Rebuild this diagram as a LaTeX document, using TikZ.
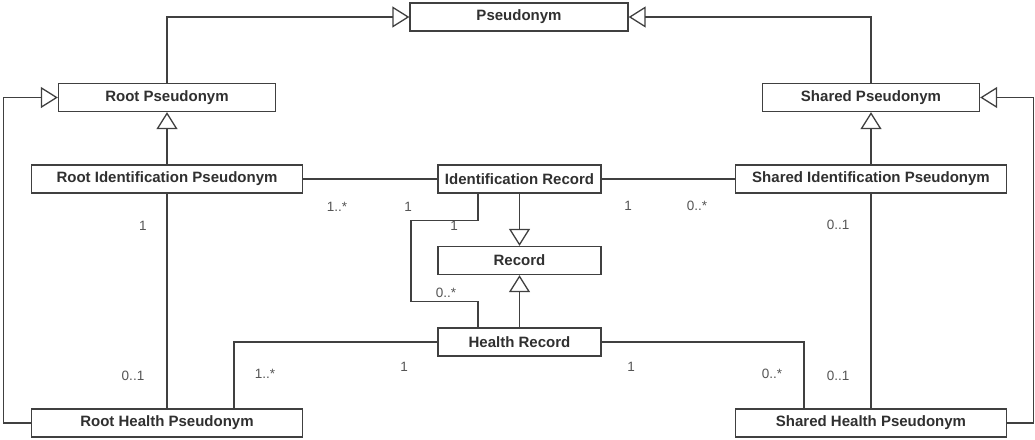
\documentclass[tikz,border=0pt]{standalone}
\usepackage{fontspec}
\setmainfont{Liberation Sans}
\usetikzlibrary{arrows.meta}
\definecolor{edge}{HTML}{404040}
\definecolor{txt}{HTML}{303030}
\definecolor{mult}{HTML}{555555}
\begin{document}
\begin{tikzpicture}[x=1pt,y=-1pt,
  cls/.style={draw=edge, line width=1.3pt, fill=white, minimum height=28pt,
    inner sep=0pt, text=txt, font=\fontsize{15}{18}\selectfont\bfseries},
  wide/.style={cls, minimum width=271pt},
  mid/.style={cls, minimum width=163pt},
  top/.style={cls, minimum width=217pt},
  assoc/.style={draw=edge, line width=1.3pt},
  gen/.style={assoc, -{Triangle[open, length=17pt, width=21pt]}},
  mlabel/.style={text=mult, inner sep=0pt, font=\fontsize{13.5}{16}\selectfont}]
\useasboundingbox (0,0) rectangle (1035,439);

% classes
\node[top, minimum width=218pt] (pseudo) at (519,17) {Pseudonym};
\node[top] (rootP)   at (167,97.5)  {Root Pseudonym};
\node[top] (sharedP) at (871,97.5)  {Shared Pseudonym};
\node[wide] (rootIP)   at (167,179) {Root Identification Pseudonym};
\node[mid]  (idRec)    at (519.5,179) {Identification Record};
\node[wide] (sharedIP) at (871,179) {Shared Identification Pseudonym};
\node[mid]  (record)   at (519.5,260.5) {Record};
\node[mid]  (healthRec) at (519.5,342) {Health Record};
\node[wide] (rootHP)   at (167,423) {Root Health Pseudonym};
\node[wide] (sharedHP) at (871,423) {Shared Health Pseudonym};

% generalizations
\draw[gen] (rootP.north) |- (pseudo.west);
\draw[gen] (sharedP.north) |- (pseudo.east);
\draw[gen] (rootIP.north) -- (rootP.south);
\draw[gen] (sharedIP.north) -- (sharedP.south);
\draw[gen] (rootHP.west) -- ++(-27.5,0) |- (rootP.west);
\draw[gen] (sharedHP.east) -- ++(26,0) |- (sharedP.east);
\draw[gen] (idRec.south) -- (record.north);
\draw[gen] (healthRec.north) -- (record.south);

% associations
\draw[assoc] (rootIP.east) -- (idRec.west);
\draw[assoc] (idRec.east) -- (sharedIP.west);
\draw[assoc] (rootIP.south) -- (rootHP.north);
\draw[assoc] (sharedIP.south) -- (sharedHP.north);
\draw[assoc] ([xshift=-41.5pt]idRec.south) -- ++(0,27) -- ++(-67,0)
  -- ++(0,81) -- ++(67,0) -- ([xshift=-41.5pt]healthRec.north);
\draw[assoc] (healthRec.west) -| ([xshift=67pt]rootHP.north);
\draw[assoc] (healthRec.east) -| ([xshift=-67pt]sharedHP.north);

% multiplicities
\node[mlabel] (m1)  at (143,226) {1};
\node[mlabel] (m2)  at (133,376) {0..1};
\node[mlabel] (m3)  at (337,207) {1..*};
\node[mlabel] (m4)  at (408,207) {1};
\node[mlabel] (m5)  at (628,206) {1};
\node[mlabel] (m6)  at (697,206) {0..*};
\node[mlabel] (m7)  at (454,226) {1};
\node[mlabel] (m8)  at (446,293) {0..*};
\node[mlabel] (m9)  at (265,374) {1..*};
\node[mlabel] (m10) at (404,367) {1};
\node[mlabel] (m11) at (631,367) {1};
\node[mlabel] (m12) at (772,374) {0..*};
\node[mlabel] (m13) at (838,225) {0..1};
\node[mlabel] (m14) at (838,376) {0..1};
\end{tikzpicture}
\end{document}
